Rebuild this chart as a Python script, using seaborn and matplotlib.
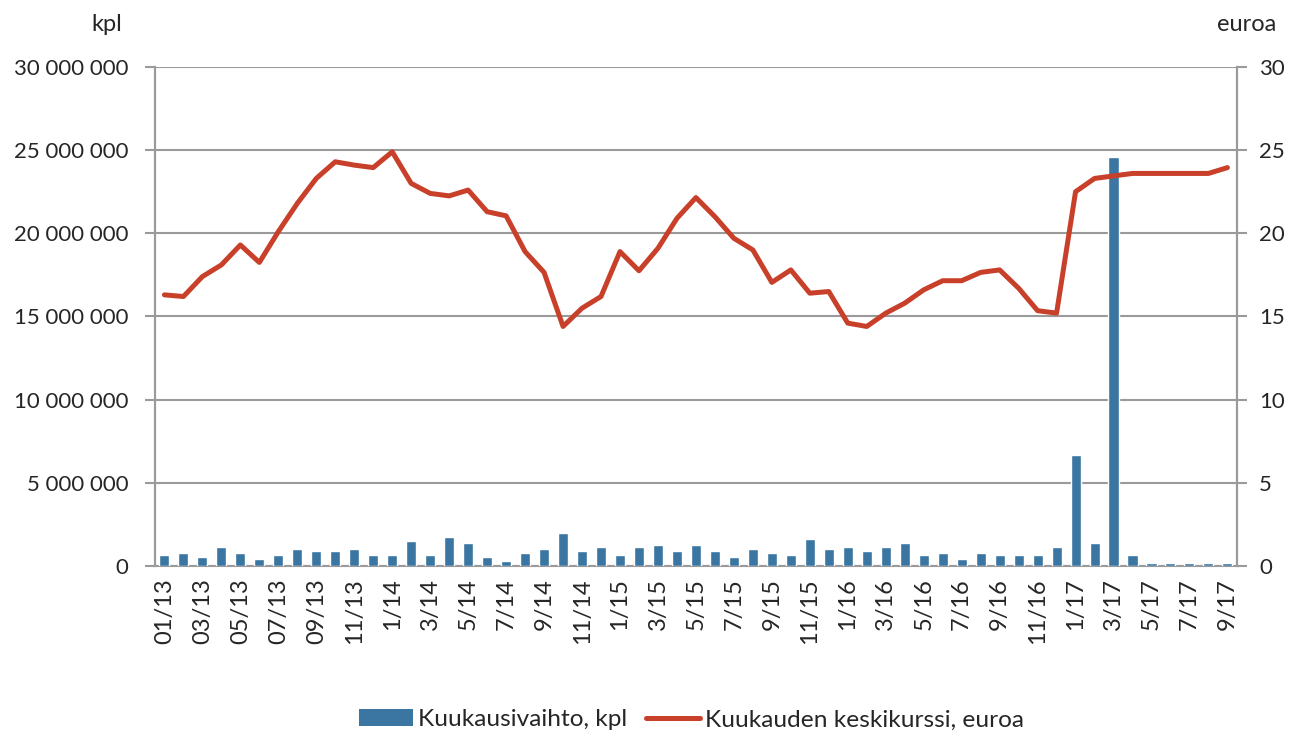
import numpy as np
import pandas as pd
import matplotlib
matplotlib.use("Agg")
import matplotlib.pyplot as plt
import matplotlib.ticker as mticker
from matplotlib.patches import Patch
from matplotlib.lines import Line2D
import seaborn as sns

months = (["01/13", "02/13", "03/13", "04/13", "05/13", "06/13", "07/13", "08/13",
           "09/13", "10/13", "11/13", "12/13"]
          + [f"{m}/14" for m in range(1, 13)]
          + [f"{m}/15" for m in range(1, 13)]
          + [f"{m}/16" for m in range(1, 13)]
          + [f"{m}/17" for m in range(1, 10)])

# monthly volume, million pcs
volume_m = [0.66, 0.78, 0.54, 1.14, 0.78, 0.42, 0.66, 1.02, 0.90, 0.90, 1.02, 0.66,
            0.66, 1.50, 0.66, 1.74, 1.38, 0.54, 0.30, 0.78, 1.02, 1.97, 0.90, 1.14,
            0.66, 1.14, 1.26, 0.90, 1.26, 0.90, 0.54, 1.02, 0.78, 0.66, 1.62, 1.02,
            1.14, 0.90, 1.14, 1.38, 0.66, 0.78, 0.42, 0.78, 0.66, 0.66, 0.66, 1.14,
            6.68, 1.38, 24.6, 0.66, 0.15, 0.15, 0.15, 0.15, 0.15]

# monthly average price, euro
price = [16.3, 16.2, 17.4, 18.1, 19.3, 18.25, 20.1, 21.8, 23.3, 24.3, 24.1, 23.95,
         24.9, 23.0, 22.4, 22.25, 22.6, 21.3, 21.05, 18.9, 17.65, 14.4, 15.5, 16.2,
         18.9, 17.75, 19.1, 20.9, 22.15, 21.0, 19.7, 19.0, 17.05, 17.8, 16.4, 16.5,
         14.6, 14.4, 15.2, 15.8, 16.6, 17.15, 17.15, 17.65, 17.8, 16.7, 15.35, 15.2,
         22.5, 23.3, 23.45, 23.6, 23.6, 23.6, 23.6, 23.6, 23.95]

bar_label = "Kuukausivaihto, kpl"
line_label = "Kuukauden keskikurssi, euroa"

df = pd.DataFrame({"kk": months,
                   "vaihto": np.array(volume_m) * 1e6,
                   "kurssi": price,
                   "pos": np.arange(len(months))})

BLUE = "#3B76A3"
RED = "#C8402A"
GRID = "#9A9A9A"

sns.set_style("white")
plt.rcParams["font.family"] = ["Lato", "DejaVu Sans"]

fig = plt.figure(figsize=(13.02, 7.36), dpi=100)
ax = fig.add_axes([0.119, 0.231, 0.831, 0.678])
ax2 = ax.twinx()

sns.barplot(data=df, x="kk", y="vaihto", color=BLUE, width=0.53,
            saturation=1, ax=ax, order=months, zorder=3)
sns.lineplot(data=df, x="pos", y="kurssi", color=RED, linewidth=3.6, ax=ax2)

ax.set_xlim(-0.5, len(months) - 0.5)
ax.set_ylim(0, 30e6)
ax2.set_ylim(0, 30)
ax.set_yticks(np.arange(0, 30e6 + 1, 5e6))
ax2.set_yticks(np.arange(0, 31, 5))
ax.yaxis.set_major_formatter(mticker.FuncFormatter(lambda v, p: f"{int(v):,}".replace(",", " ")))

ax.set_xticks(np.arange(0, len(months), 2))
ax.set_xticklabels(months[::2], rotation=90)
ax.set_xticks(np.arange(len(months) + 1) - 0.5, minor=True)
ax.tick_params(axis="x", which="major", length=0, labelsize=17, pad=9)
ax.tick_params(axis="x", which="minor", length=9, width=1.5, color=GRID, direction="inout")
ax.tick_params(axis="y", length=7, width=1.5, color=GRID, labelsize=16, pad=12)
ax2.tick_params(axis="y", length=7, width=1.5, color=GRID, labelsize=16, pad=9)

ax.grid(axis="y", color=GRID, linewidth=1.5)
ax.set_axisbelow(True)
ax2.grid(False)
ax.set_xlabel("")
ax.set_ylabel("")
ax2.set_xlabel("")
ax2.set_ylabel("")

for a in (ax, ax2):
    for side in ("left", "right", "bottom"):
        a.spines[side].set_color(GRID)
        a.spines[side].set_linewidth(1.5)
    a.spines["top"].set_visible(False)
ax2.spines["bottom"].set_visible(False)

fig.text(0.070, 0.967, "kpl", fontsize=17, ha="left", va="center")
fig.text(0.980, 0.967, "euroa", fontsize=17, ha="right", va="center")

handles = [Patch(facecolor=BLUE, edgecolor="none", label=bar_label),
           Line2D([0], [0], color=RED, linewidth=3.6, label=line_label)]
fig.legend(handles=handles, loc="center", bbox_to_anchor=(0.531, 0.022), ncol=2,
           frameon=False, fontsize=17.6, handlelength=2.2, columnspacing=0.8,
           handletextpad=0.2)

fig.savefig("out.png", dpi=100)
